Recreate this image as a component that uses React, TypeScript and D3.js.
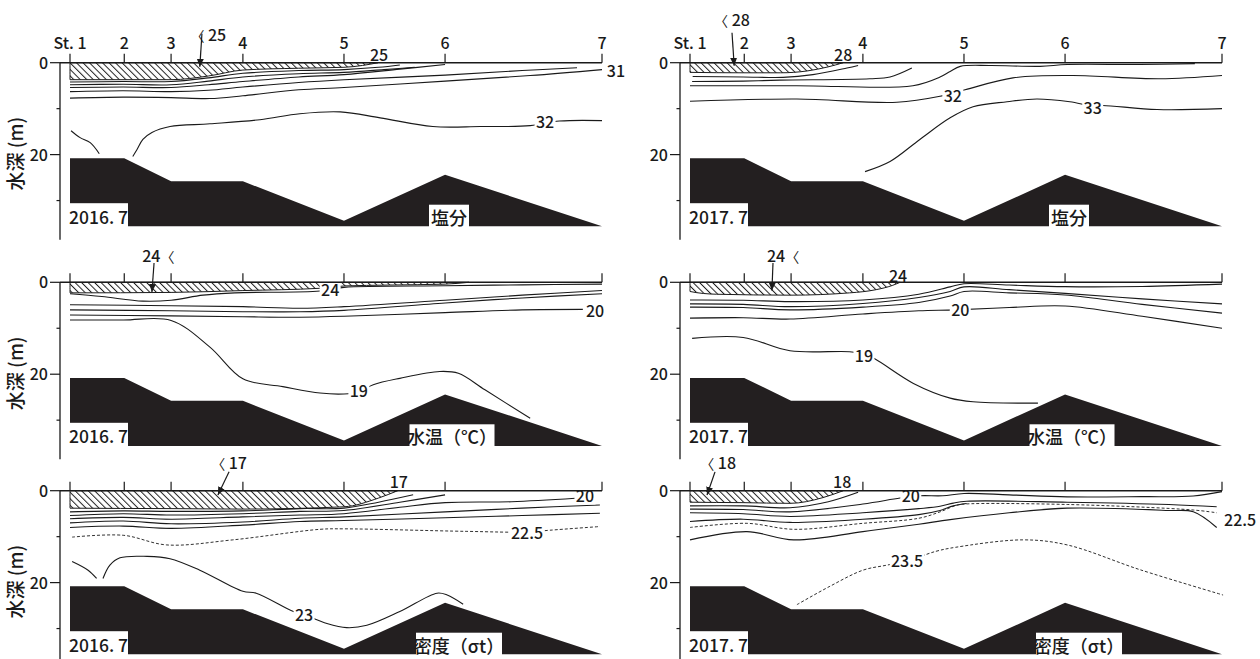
import React from "react";
import * as d3 from "d3";

type Pt = [number, number];
interface Contour { pts: Pt[]; dashed?: boolean }
interface Label { text: string; at: Pt; box?: boolean; anchor?: "start" | "middle" | "end" }
interface Arrow { text: string; textAt: Pt; from: Pt; to: Pt }

// stations along the section (km from St.1)
const stationKm = [0, 1.02, 1.9, 3.25, 5.15, 7.05, 10];
const stationLabels = ["St. 1", "2", "3", "4", "5", "6", "7"];
// sea floor depth (m) under each station
const bottomDepth = [20.8, 20.8, 25.8, 25.8, 34.4, 24.4, 35.6];
const panelBottom = 35.6;
const depthTicks = [0, 10, 20, 30];
const depthTickLabels = ["0", "", "20", ""];
const yearLabels = ["2016. 7", "2017. 7"];
const titleLabels = ["塩分", "水温（℃）", "密度（σt）"];

// ---- salinity 2016.7
const sal16Hatch: Pt[] = [[0, 3.7], [1.9, 3.7], [2.6, 2.9], [3.25, 1.6], [4.3, 1.2], [5.15, 1.0], [5.5, 0.6], [5.79, 0]];
const sal16Lines: Contour[] = [
  { pts: [[0, 4.2], [1.0, 4.1], [1.9, 4.1], [2.6, 3.3], [3.25, 2.3], [4.3, 1.7], [5.15, 1.5], [5.8, 1.0], [6.2, 0.5]] },
  { pts: [[0, 4.8], [1.0, 4.7], [1.9, 4.8], [2.6, 4.0], [3.25, 3.1], [4.3, 2.4], [5.15, 2.1], [5.9, 1.5], [6.48, 1.0]] },
  { pts: [[0, 5.4], [1.0, 5.3], [1.9, 5.4], [2.6, 4.8], [3.25, 4.1], [4.3, 3.1], [5.15, 2.6], [6.2, 1.4], [7.05, 0.4]] },
  { pts: [[0, 6.3], [1.0, 6.1], [1.9, 6.3], [2.6, 6.0], [3.25, 5.3], [4.3, 4.3], [5.15, 3.7], [7.05, 2.7], [8.5, 1.7], [9.53, 1.1]] },
  { pts: [[0, 7.7], [1.0, 7.5], [1.9, 7.6], [2.63, 7.8], [3.25, 7.2], [4.3, 5.9], [5.15, 5.4], [7.05, 4.0], [8.65, 2.8], [10, 1.5]] },
  { pts: [[0.02, 14.8], [0.19, 16.3], [0.38, 17.4], [0.55, 19.8]] },
  { pts: [[1.18, 20.4], [1.26, 18.9], [1.37, 16.7], [1.54, 15.2], [1.88, 13.9], [2.63, 13.3], [3.57, 12.4], [4.32, 11.1], [5.08, 10.7], [5.83, 12.0], [6.82, 13.9], [7.71, 13.9], [8.65, 13.7], [9.2, 12.7], [10, 12.6]] },
];
const sal16Labels: Label[] = [
  { text: "25", at: [5.81, -1.74] },
  { text: "31", at: [10.09, 1.74], anchor: "start" },
  { text: "32", at: [8.93, 12.9], box: true },
];
const sal16Arrow: Arrow = { text: "〈 25", textAt: [2.6, -6.1], from: [2.48, -6.3], to: [2.44, 0.9] };

// ---- salinity 2017.7
const sal17Hatch: Pt[] = [[0, 2.1], [1.0, 2.2], [1.7, 2.2], [2.2, 1.8], [2.6, 0.9], [2.88, 0]];
const sal17Lines: Contour[] = [
  { pts: [[0.05, 3.0], [1.0, 3.1], [1.75, 3.2], [2.31, 2.6], [2.95, 1.15], [3.16, 0.6]] },
  { pts: [[0.04, 4.1], [1.0, 4.0], [1.69, 3.8], [3.38, 3.5], [3.76, 3.1], [4.17, 1.15]] },
  { pts: [[0, 5.0], [2.01, 5.0], [4.19, 5.0], [4.7, 3.1], [4.89, 1.9], [5.08, 0.8], [5.64, 0.6], [6.58, 0.8], [7.09, 0.4], [8.46, 0.4], [9.49, 0.2]] },
  { pts: [[0, 8.4], [2.01, 7.9], [3.89, 8.6], [4.7, 7.3], [5.17, 5.9], [6.07, 3.3], [7.2, 2.8], [8.83, 3.5], [10, 2.8]] },
  { pts: [[3.29, 23.7], [3.76, 21.5], [4.32, 16.7], [4.89, 12.0], [5.32, 9.6], [5.96, 8.5], [6.52, 7.9], [7.14, 8.5], [7.57, 9.4], [7.76, 9.3], [8.78, 10.2], [10, 10]] },
];
const sal17Labels: Label[] = [
  { text: "28", at: [2.88, -1.74] },
  { text: "32", at: [4.94, 7.2], box: true },
  { text: "33", at: [7.57, 9.8], box: true },
];
const sal17Arrow: Arrow = { text: "〈 28", textAt: [0.79, -9.3], from: [0.79, -6.5], to: [0.83, 0.65] };

// ---- temperature 2016.7
const temp16Hatch: Pt[] = [[0, 2.3], [1.9, 2.2], [3.25, 1.8], [4.7, 1.3], [5.15, 0.8], [6.0, 0.6], [7.05, 0.4], [7.5, 0]];
const temp16Lines: Contour[] = [
  { pts: [[0, 2.5], [0.6, 3.1], [1.37, 4.1], [1.9, 3.9], [2.5, 2.8], [3.1, 2.3], [4.7, 1.9], [5.15, 1.1], [7.05, 0.75], [8.5, 0.55], [10, 0.4]] },
  { pts: [[0, 4.9], [1.9, 5.1], [3.25, 5.3], [4.32, 5.65], [5.15, 5.3], [7.05, 3.9], [8.5, 2.8], [10, 1.8]] },
  { pts: [[0, 6.0], [1.9, 6.2], [3.25, 6.4], [4.32, 6.4], [5.15, 6.1], [7.05, 4.5], [8.5, 3.4], [10, 2.5]] },
  { pts: [[0, 7.1], [1.9, 7.3], [3.25, 7.5], [4.32, 7.6], [5.15, 7.4], [7.05, 6.6], [8.5, 6.0], [9.64, 5.9]] },
  { pts: [[0, 8.2], [1.0, 8.2], [1.9, 8.3], [2.63, 14.1], [3.25, 21.0], [4.0, 22.7], [4.7, 24.1], [5.15, 24.3], [5.43, 23.8], [5.7, 22.3], [6.2, 20.9], [6.95, 19.4], [7.3, 19.8], [7.8, 23.4], [8.65, 29.6]] },
];
const temp16Labels: Label[] = [
  { text: "24", at: [4.89, 1.67], box: true },
  { text: "20", at: [9.87, 6.24], box: true },
  { text: "19", at: [5.43, 23.6], box: true },
];
const temp16Arrow: Arrow = { text: "24〈", textAt: [1.66, -5.7], from: [1.58, -4.2], to: [1.54, 2.1] };

// ---- temperature 2017.7
const temp17Hatch: Pt[] = [[0, 2.0], [0.5, 2.6], [1.9, 2.8], [3.0, 2.3], [3.5, 1.6], [3.8, 0.7], [3.95, 0]];
const temp17Lines: Contour[] = [
  { pts: [[0, 3.85], [1.0, 3.9], [1.88, 4.2], [3.25, 3.85], [4.3, 2.6], [4.89, 1.0], [5.15, 0.3], [6.0, 0.6], [7.05, 0.95], [8.5, 0.9], [10, 0.4]] },
  { pts: [[0, 4.7], [1.0, 4.8], [1.88, 5.3], [3.25, 4.6], [4.3, 3.3], [4.89, 2.0], [5.15, 1.0], [6.0, 1.6], [7.05, 2.4], [8.5, 3.6], [10, 4.7]] },
  { pts: [[0, 5.4], [1.0, 5.5], [1.88, 6.0], [3.25, 5.4], [4.3, 4.4], [4.89, 3.0], [5.15, 2.0], [6.0, 2.3], [7.05, 2.75], [8.5, 4.8], [10, 6.7]] },
  { pts: [[0, 7.8], [1.0, 7.7], [1.88, 8.0], [3.25, 6.9], [4.3, 6.2], [4.99, 6.0], [6.0, 5.5], [7.05, 5.15], [8.5, 7.4], [10, 10.0]] },
  { pts: [[0.04, 12.2], [1.0, 12.0], [1.88, 14.9], [3.0, 15.1], [3.27, 15.6], [3.48, 16.7], [4.2, 22.0], [4.89, 25.2], [5.32, 26.0], [6.54, 26.3]] },
];
const temp17Labels: Label[] = [
  { text: "24", at: [3.91, -1.37] },
  { text: "20", at: [5.08, 6.0], box: true },
  { text: "19", at: [3.27, 16.0], box: true },
];
const temp17Arrow: Arrow = { text: "24〈", textAt: [1.75, -5.7], from: [1.56, -4.2], to: [1.54, 1.8] };

// ---- density 2016.7
const dens16Hatch: Pt[] = [[0, 3.8], [1.9, 3.9], [3.25, 4.0], [5.15, 3.5], [5.8, 1.6], [6.16, 0]];
const dens16Lines: Contour[] = [
  { pts: [[0, 4.6], [1.0, 4.4], [1.9, 4.5], [3.25, 4.4], [4.32, 3.9], [5.15, 3.8], [5.8, 2.5], [6.45, 0.9]] },
  { pts: [[0, 5.4], [1.0, 5.0], [1.9, 5.3], [3.25, 5.0], [4.32, 4.5], [5.15, 4.3], [6.2, 2.5], [7.05, 0.9]] },
  { pts: [[0, 6.1], [1.0, 5.8], [1.9, 6.2], [3.25, 5.7], [4.32, 5.3], [5.15, 5.0], [6.2, 3.6], [7.05, 2.6], [8.3, 2.4], [9.5, 1.65]] },
  { pts: [[0, 7.0], [1.0, 6.6], [1.9, 7.2], [3.25, 6.8], [4.32, 6.0], [5.15, 5.7], [7.05, 4.6], [8.5, 3.8], [9.96, 3.1]] },
  { pts: [[0, 8.0], [1.0, 7.7], [1.9, 8.2], [3.25, 7.5], [4.32, 6.7], [5.15, 6.5], [7.05, 5.9], [8.5, 5.4], [9.96, 4.9]] },
  { pts: [[0.04, 10.1], [1.0, 9.7], [1.82, 11.8], [3.06, 10.7], [4.7, 8.4], [5.15, 8.3], [7.46, 8.85], [8.6, 9.0], [9.02, 8.6], [9.96, 7.8]], dashed: true },
  { pts: [[0.04, 15.4], [0.34, 17.3], [0.5, 19.1]] },
  { pts: [[0.62, 19.1], [0.75, 16.2], [0.94, 14.6], [1.45, 14.3], [1.88, 14.8], [2.44, 17.3], [3.25, 21.9], [3.5, 22.3], [4.2, 26.3], [4.4, 27.0], [4.83, 28.9], [5.2, 29.8], [5.58, 29.3], [6.2, 26.3], [6.9, 22.3], [7.09, 22.7], [7.39, 24.7]] },
];
const dens16Labels: Label[] = [
  { text: "17", at: [6.18, -1.9] },
  { text: "20", at: [9.68, 1.15], box: true },
  { text: "22.5", at: [8.59, 9.2], box: true },
  { text: "23", at: [4.4, 27.0], box: true },
];
const dens16Arrow: Arrow = { text: "〈 17", textAt: [2.99, -6.0], from: [2.99, -4.1], to: [2.78, 0.93] };

// ---- density 2017.7
const dens17Hatch: Pt[] = [[0, 2.5], [1.0, 2.6], [1.88, 2.75], [2.5, 1.5], [2.88, 0]];
const dens17Lines: Contour[] = [
  { pts: [[0, 3.3], [1.0, 3.3], [1.88, 3.7], [2.6, 2.4], [3.16, 0.35]] },
  { pts: [[0, 4.0], [1.0, 4.1], [1.88, 4.6], [3.25, 2.9], [3.95, 1.6], [4.32, 1.1], [4.75, 1.1], [5.15, 0.6], [6.0, 0.9], [7.09, 1.35], [8.5, 1.3], [9.46, 1.15], [10, 0.2]] },
  { pts: [[0, 4.8], [1.0, 5.0], [1.88, 5.6], [3.25, 4.8], [4.3, 3.9], [4.7, 3.4], [4.95, 2.7], [5.2, 2.3], [7.09, 2.5], [9.0, 3.0], [9.9, 3.5]] },
  { pts: [[0, 6.7], [1.0, 6.2], [1.88, 6.9], [3.25, 6.2], [4.3, 5.2], [4.7, 4.3], [4.95, 3.3], [5.2, 2.8]] },
  { pts: [[0, 8.0], [1.07, 7.1], [1.95, 8.4], [3.25, 7.1], [4.3, 6.0], [4.7, 4.6], [5.0, 3.2], [5.17, 2.9], [7.09, 3.0], [9.46, 4.2], [9.9, 4.8]], dashed: true },
  { pts: [[0, 10.7], [1.07, 8.9], [1.95, 10.7], [3.25, 8.9], [4.3, 7.3], [4.89, 6.3], [6.0, 4.8], [7.09, 3.8], [9.0, 4.3], [9.46, 4.6], [9.9, 8.0]] },
  { pts: [[2.01, 24.8], [2.63, 20.8], [3.25, 17.3], [3.7, 16.2], [4.08, 15.3], [4.62, 13.2], [5.0, 12.3], [6.26, 10.7], [7.09, 11.8], [8.46, 17.2], [10.02, 22.7]], dashed: true },
];
const dens17Labels: Label[] = [
  { text: "18", at: [2.86, -1.9] },
  { text: "20", at: [4.15, 1.15], box: true },
  { text: "22.5", at: [10.34, 6.4], box: true },
  { text: "23.5", at: [4.08, 15.3], box: true },
];
const dens17Arrow: Arrow = { text: "〈 18", textAt: [0.53, -6.0], from: [0.47, -4.1], to: [0.32, 0.93] };

const hatchSets = [[sal16Hatch, sal17Hatch], [temp16Hatch, temp17Hatch], [dens16Hatch, dens17Hatch]];
const lineSets = [[sal16Lines, sal17Lines], [temp16Lines, temp17Lines], [dens16Lines, dens17Lines]];
const labelSets = [[sal16Labels, sal17Labels], [temp16Labels, temp17Labels], [dens16Labels, dens17Labels]];
const arrowSets = [[sal16Arrow, sal17Arrow], [temp16Arrow, temp17Arrow], [dens16Arrow, dens17Arrow]];

const colX = [0, 620];
const rowY0 = [62.7, 282.3, 490.7];
const titleCenter = [449, 452, 459];
const titleWidth = [40, 85, 86];

const FONT = "'Noto Sans CJK JP', 'Noto Sans', sans-serif";
const INK = "#1a1a1a";

function labelWidth(t: string) {
  let w = 0;
  for (const c of t) w += c === "." ? 4.5 : 9;
  return w + 3;
}

// the angle bracket in the notes is drawn a little smaller and thinner than the digits
function noteParts(t: string) {
  return t.split(/(〈)/).filter((p) => p !== "").map((p, i) =>
    p === "〈" ? (
      <tspan key={i} fontSize={14} fontWeight={400}>
        {p}
      </tspan>
    ) : (
      <tspan key={i}>{p}</tspan>
    )
  );
}

function Panel({ row, col }: { row: number; col: number }) {
  const ox = colX[col];
  const y0 = rowY0[row];
  const x = d3.scaleLinear().domain([0, 10]).range([70 + ox, 602 + ox]);
  const y = d3.scaleLinear().domain([0, 38.3]).range([y0, y0 + 176]);
  const line = d3
    .line<Pt>()
    .x((d) => x(d[0]))
    .y((d) => y(d[1]))
    .curve(d3.curveCatmullRom.alpha(0.5));
  const hatchArea = d3
    .area<Pt>()
    .x((d) => x(d[0]))
    .y0(y(0))
    .y1((d) => y(d[1]))
    .curve(d3.curveMonotoneX);
  const bathy = d3
    .area<number>()
    .x((_, i) => x(stationKm[i]))
    .y0(y(panelBottom))
    .y1((d) => y(d));
  const hatch = hatchSets[row][col];
  const hatchPts: Pt[] = [[0, 0], ...hatch];
  const axisX = ox + 60;
  const arrow = arrowSets[row][col];
  const bottomPx = y(panelBottom);

  return (
    <g>
      {/* sea floor */}
      <path d={bathy(bottomDepth) ?? ""} fill="#231f20" />

      {/* low-value layer */}
      <path d={hatchArea(hatchPts) ?? ""} fill="url(#hatch)" stroke={INK} strokeWidth={1} />

      {/* contours */}
      {lineSets[row][col].map((c, i) => (
        <path
          key={i}
          d={line(c.pts) ?? ""}
          fill="none"
          stroke={INK}
          strokeWidth={c.dashed ? 0.9 : 1.1}
          strokeDasharray={c.dashed ? "3 2" : undefined}
        />
      ))}

      {/* contour labels */}
      {labelSets[row][col].map((l, i) => {
        const w = labelWidth(l.text);
        const cx = x(l.at[0]);
        const cy = y(l.at[1]);
        const anchor = l.anchor ?? "middle";
        const rx = anchor === "start" ? cx - 1 : cx - w / 2;
        return (
          <g key={i}>
            {l.box && <rect x={rx} y={cy - 8.5} width={w} height={17} fill="#fff" />}
            <text x={cx} y={cy + 6} fontSize={16} textAnchor={anchor} fill={INK}>
              {l.text}
            </text>
          </g>
        );
      })}

      {/* arrow note */}
      <text x={x(arrow.textAt[0])} y={y(arrow.textAt[1]) + 6} fontSize={16} textAnchor="middle" fill={INK}>
        {noteParts(arrow.text)}
      </text>
      <line
        x1={x(arrow.from[0])}
        y1={y(arrow.from[1])}
        x2={x(arrow.to[0])}
        y2={y(arrow.to[1])}
        stroke={INK}
        strokeWidth={1.2}
        markerEnd="url(#arrowhead)"
      />

      {/* depth axis */}
      <line x1={axisX} x2={axisX} y1={y0} y2={y0 + 177} stroke={INK} strokeWidth={1.3} />
      {depthTicks.map((t, i) => (
        <g key={t}>
          <line
            x1={axisX - (depthTickLabels[i] ? 10 : 3.5)}
            x2={axisX}
            y1={y(t)}
            y2={y(t)}
            stroke={INK}
            strokeWidth={1.2}
          />
          {depthTickLabels[i] && (
            <text x={axisX - 12} y={y(t) + 6} fontSize={16} textAnchor="end" fill={INK}>
              {depthTickLabels[i]}
            </text>
          )}
        </g>
      ))}

      {/* surface line + station ticks */}
      <line x1={axisX} x2={x(10)} y1={y0} y2={y0} stroke={INK} strokeWidth={1.5} />
      {stationKm.map((s, i) => (
        <g key={i}>
          <line x1={x(s)} x2={x(s)} y1={y0 - 9} y2={y0} stroke={INK} strokeWidth={1.2} />
          {row === 0 && (
            <text x={x(s)} y={y0 - 14} fontSize={16} textAnchor="middle" fill={INK}>
              {stationLabels[i]}
            </text>
          )}
        </g>
      ))}

      {/* year + variable tags */}
      <rect x={ox + 68} y={y0 + 140.5} width={60} height={bottomPx - (y0 + 140.5) + 1} fill="#fff" />
      <text x={ox + 69} y={y0 + 161} fontSize={17.5} fill={INK}>
        {yearLabels[col]}
      </text>
      <rect
        x={ox + titleCenter[row] - titleWidth[row] / 2}
        y={y0 + 142}
        width={titleWidth[row]}
        height={bottomPx - (y0 + 142) + 1}
        fill="#fff"
      />
      <text x={ox + titleCenter[row]} y={y0 + 162} fontSize={18} textAnchor="middle" fill={INK}>
        {titleLabels[row]}
      </text>

      {col === 0 && (
        <text
          transform={`translate(18, ${y0 + 91}) rotate(-90)`}
          fontSize={19}
          textAnchor="middle"
          dominantBaseline="middle"
          fill={INK}
        >
          水深 (m)
        </text>
      )}
    </g>
  );
}

export default function App() {
  return (
    <svg
      width={1260}
      height={659}
      style={{ position: "absolute", left: 0, top: 0, background: "#fff" }}
      fontFamily={FONT}
      fontWeight={500}
    >
      <defs>
        <pattern id="hatch" width={4.6} height={4.6} patternUnits="userSpaceOnUse" patternTransform="rotate(-45)">
          <rect width={4.6} height={4.6} fill="#fff" />
          <line x1={0} y1={0} x2={0} y2={4.6} stroke="#222" strokeWidth={2} />
        </pattern>
        <marker
          id="arrowhead"
          markerUnits="userSpaceOnUse"
          markerWidth={8}
          markerHeight={9}
          refX={8}
          refY={4}
          orient="auto"
        >
          <path d="M0,0.5 L8,4 L0,7.5 Z" fill={INK} />
        </marker>
      </defs>
      <rect width={1260} height={659} fill="#fff" />
      {[0, 1, 2].map((row) => [0, 1].map((col) => <Panel key={`${row}-${col}`} row={row} col={col} />))}
    </svg>
  );
}
